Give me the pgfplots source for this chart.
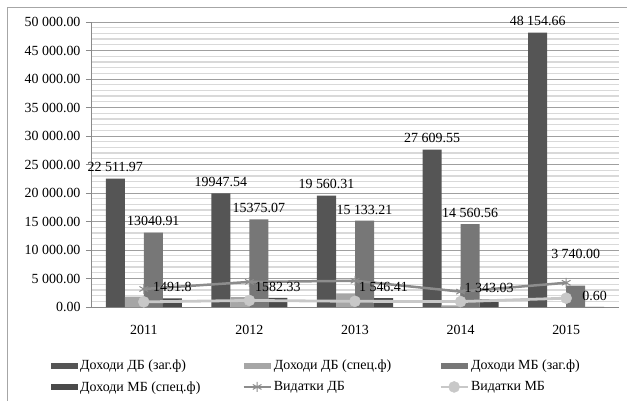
\documentclass[border=0pt]{standalone}
\usepackage{fontspec}
\setmainfont{Liberation Serif}
\usepackage{pgfplots}
\usepackage{pgfplotstable}
\pgfplotsset{compat=1.18}

\definecolor{cDBz}{HTML}{555555}
\definecolor{cDBs}{HTML}{A6A6A6}
\definecolor{cMBz}{HTML}{777777}
\definecolor{cMBs}{HTML}{4A4A4A}
\definecolor{cVDB}{HTML}{8C8C8C}
\definecolor{cVMB}{HTML}{C8C8C8}
\definecolor{cAxis}{HTML}{8A8A8A}

\pgfplotsset{
  barleg/.style={legend image code/.code={\fill[#1] (0bp,-3bp) rectangle (27bp,3bp);}},
  lineleg/.style={legend image code/.code={\draw[##1, mark repeat=2, mark phase=2] plot coordinates {(0bp,0bp) (13.5bp,0bp) (27bp,0bp)};}},
  labelplot/.style={ybar, bar width=19bp, bar shift=0bp, draw=none, fill=none,
    nodes near coords, point meta=explicit symbolic, forget plot,
    every node near coord/.append style={xshift=#1}},
}

\pgfplotstableread[col sep=comma]{
x,y,lab,dy
0,22511.97,22 511.97,0
1,19947.54,19947.54,0
2,19560.31,19 560.31,0
3,27609.55,27 609.55,0
4,48154.66,48 154.66,0
}\dbz

\pgfplotstableread[col sep=comma]{
x,y
0,1800
1,1750
2,2400
3,300
4,0
}\dbs

\pgfplotstableread[col sep=comma]{
x,y,lab,dy
0,13040.91,13040.91,0
1,15375.07,15375.07,0
2,15133.21,15 133.21,0
3,14560.56,14 560.56,0
4,3740.00,3 740.00,20
}\mbz

\pgfplotstableread[col sep=comma]{
x,y,lab,dy
0,1491.8,1491.8,0
1,1582.33,1582.33,0
2,1546.41,1 546.41,0
3,1343.03,1 343.03,0
4,0.60,0.60,0
}\mbs

\pgfplotstableread[col sep=comma]{
x,y
0,3160
1,4400
2,4600
3,2700
4,4250
}\vdb

\pgfplotstableread[col sep=comma]{
x,y
0,900
1,1150
2,1000
3,950
4,1550
}\vmb

\begin{document}
\begin{tikzpicture}
\begin{axis}[
  scale only axis, width=528bp, height=285bp,
  xmin=-0.5, xmax=4.5, ymin=0, ymax=50000,
  scaled y ticks=false,
  axis x line=bottom, axis y line=left,
  axis line style={draw=cAxis, line width=0.9bp, -},
  every inner x axis line/.append style={-},
  every outer x axis line/.append style={-},
  every inner y axis line/.append style={-},
  every outer y axis line/.append style={-},
  xtick={0,1,2,3,4},
  xticklabels={2011,2012,2013,2014,2015},
  major x tick style={draw=none},
  extra x ticks={-0.5,0.5,1.5,2.5,3.5,4.5},
  extra x tick labels={},
  extra x tick style={major tick length=5bp, tick style={draw=cAxis, line width=0.9bp}},
  ytick={0,5000,10000,15000,20000,25000,30000,35000,40000,45000,50000},
  yticklabels={0.00,5 000.00,10 000.00,15 000.00,20 000.00,25 000.00,30 000.00,35 000.00,40 000.00,45 000.00,50 000.00},
  minor y tick num=4,
  minor tick length=0pt,
  major tick length=5bp,
  tick align=outside,
  y tick style={draw=cAxis, line width=0.9bp},
  ymajorgrids, yminorgrids,
  major grid style={draw=gray!75, line width=0.8bp},
  minor grid style={draw=gray!30, line width=1.3bp},
  tick label style={font=\fontsize{14}{16}\selectfont},
  xticklabel style={yshift=-10bp},
  yticklabel style={xshift=-2bp},
  every node near coord/.append style={font=\fontsize{14}{16}\selectfont, yshift=3bp, text=black},
  clip=false,
  legend columns=3,
  legend cell align=left,
  legend style={draw=none, fill=none, at={(-0.0814,-0.172)}, anchor=north west,
    font=\fontsize{14}{16}\selectfont,
    /tikz/column 2/.style={column sep=40bp},
    /tikz/column 4/.style={column sep=46bp}, row sep=6bp},
]
\addplot[ybar, bar width=19bp, bar shift=-28.5bp, fill=cDBz, draw=none, barleg=cDBz]
  table[x=x, y=y]{\dbz};
\addlegendentry{Доходи ДБ (заг.ф)}
\addplot[ybar, bar width=19bp, bar shift=-9.5bp, fill=cDBs, draw=none, barleg=cDBs]
  table[x=x, y=y]{\dbs};
\addlegendentry{Доходи ДБ (спец.ф)}
\addplot[ybar, bar width=19bp, bar shift=9.5bp, fill=cMBz, draw=none, barleg=cMBz]
  table[x=x, y=y]{\mbz};
\addlegendentry{Доходи МБ (заг.ф)}
\addplot[ybar, bar width=19bp, bar shift=28.5bp, fill=cMBs, draw=none, barleg=cMBs]
  table[x=x, y=y]{\mbs};
\addlegendentry{Доходи МБ (спец.ф)}
\addplot[sharp plot, draw=cVDB, line width=2.5bp, mark=asterisk, mark size=5bp,
  mark options={draw=cVDB, line width=1bp}, lineleg]
  table[x=x, y=y]{\vdb};
\addlegendentry{Видатки ДБ}
\addplot[sharp plot, draw=cVMB, line width=2.8bp, mark=*, mark size=5.5bp,
  mark options={fill=cVMB, draw=cVMB, line width=0.5bp}, lineleg]
  table[x=x, y=y]{\vmb};
\addlegendentry{Видатки МБ}
% data labels on top
\addplot[labelplot=-28.5bp] table[x=x, y=y, meta=lab]{\dbz};
\addplot[labelplot=9.5bp,
  visualization depends on={\thisrow{dy} \as \dyy},
  nodes near coords style={yshift=\dyy bp}] table[x=x, y=y, meta=lab]{\mbz};
\addplot[labelplot=28.5bp] table[x=x, y=y, meta=lab]{\mbs};
\end{axis}
\draw[draw=gray!70, line width=0.9bp] (-84bp,-94bp) -- (-84bp,300bp) -- (536bp,300bp);
\pgfresetboundingbox
\path[use as bounding box] (-91bp,-94bp) rectangle (536bp,307bp);
\end{tikzpicture}
\end{document}
